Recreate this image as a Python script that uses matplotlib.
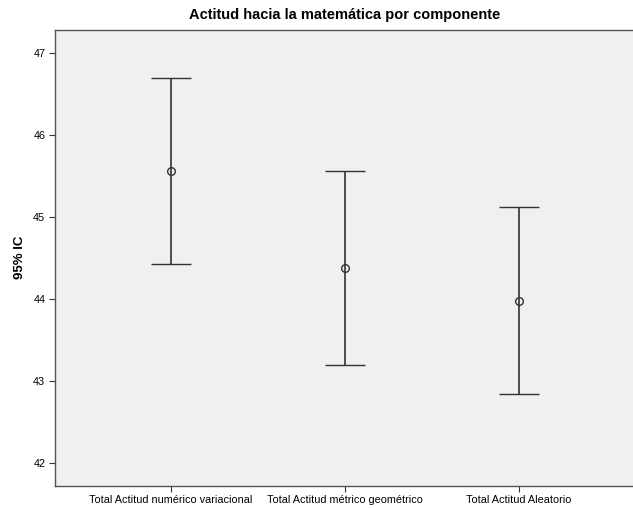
import numpy as np
import matplotlib
matplotlib.use("Agg")
from matplotlib import pyplot as plt

plt.rcParams['font.family'] = ['Liberation Sans', 'DejaVu Sans']

categories = ['Total Actitud numérico variacional', 'Total Actitud métrico geométrico', 'Total Actitud Aleatorio']
means = [45.565, 44.38, 43.98]
lower = [44.43, 43.20, 42.84]
upper = [46.70, 45.565, 45.125]

fig = plt.figure(figsize=(6.33, 5.08), dpi=100)
ax = fig.add_axes([0.0869, 0.044, 0.915, 0.897])
ax.set_facecolor('#f0f0f0')

x = np.arange(len(categories))
means = np.array(means)
err = [means - np.array(lower), np.array(upper) - means]
ax.errorbar(x, means, yerr=err, fmt='o', mfc='none', mec='#333333', ms=5.5, mew=1,
            ecolor='#333333', elinewidth=1.2, capsize=14.4, capthick=1.2)

ax.set_xlim(-0.663, 2.66)
ax.set_ylim(41.727, 47.284)
ax.set_xticks(x)
ax.set_xticklabels(categories, fontsize=7.8)
ax.set_yticks(range(42, 48))
ax.tick_params(axis='both', labelsize=7.8, length=4, color='#333333', pad=3)
for s in ax.spines.values():
    s.set_color('#555555')
    s.set_linewidth(1)
ax.spines['right'].set_visible(False)
ax.set_ylabel('95% IC', fontsize=9.5, fontweight='bold', labelpad=5)
ax.set_title('Actitud hacia la matemática por componente', fontsize=10.5, fontweight='bold', pad=8)

fig.savefig('out.png', dpi=100)
